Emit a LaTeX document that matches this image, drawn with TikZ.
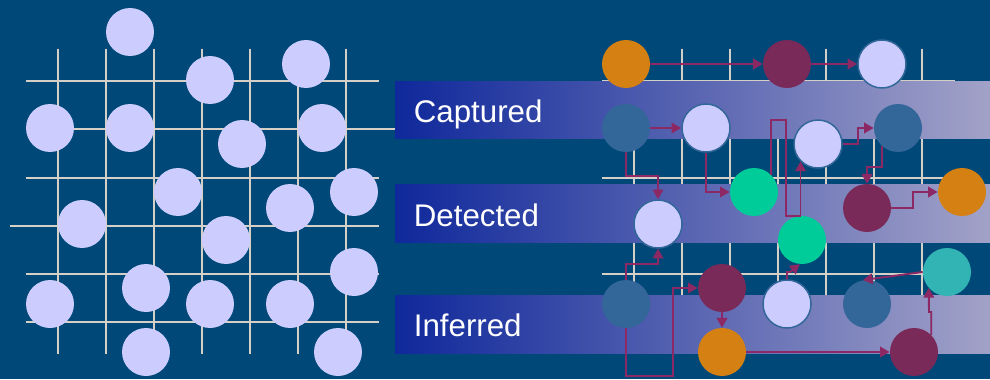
\documentclass[tikz,border=0pt]{standalone}
\usepackage{fontspec}
\setmainfont{Liberation Sans}
\usetikzlibrary{arrows.meta}

\definecolor{bgblue}{RGB}{0,72,120}
\definecolor{gridgray}{RGB}{212,208,200}
\definecolor{pale}{RGB}{204,204,255}
\definecolor{ring}{RGB}{51,102,153}
\definecolor{steel}{RGB}{51,102,153}
\definecolor{amber}{RGB}{212,128,18}
\definecolor{plum}{RGB}{122,42,88}
\definecolor{mint}{RGB}{0,204,153}
\definecolor{teal2}{RGB}{51,180,180}
\definecolor{wire}{RGB}{140,40,100}
\definecolor{bandl}{RGB}{15,40,155}
\definecolor{bandr}{RGB}{162,162,200}

\begin{document}
\begin{tikzpicture}[
    x=0.02cm, y=-0.02cm,
    >={Triangle[length=5.5pt,width=6pt]},
    grid/.style={gridgray, line width=0.85pt},
    band/.style={left color=bandl, right color=bandr},
    lbl/.style={anchor=base west, inner sep=0pt, text=white, font=\fontsize{17.8}{20}\selectfont},
    dot/.style={circle, minimum size=0.96cm, inner sep=0pt},
    light/.style={dot, fill=pale},
    lightr/.style={dot, fill=pale, draw=ring, line width=0.85pt},
    wires/.style={wire, line width=1.1pt}
]
  \fill[bgblue] (0,0) rectangle (990,379);

  % grids
  \foreach \dx in {0,576} {
    \foreach \x in {58,106,...,346}
      \draw[grid] (\x+\dx,49) -- (\x+\dx,354);
    \foreach \y in {81,129,178,226,274,322}
      \draw[grid] (26+\dx,\y) -- (379+\dx,\y);
  }
  \draw[grid] (379,129) -- (395,129);
  \draw[grid] (10,226) -- (26,226);

  % left dots
  \foreach \x/\y [count=\i] in {130/32, 210/80, 306/64, 50/128, 130/128,
      242/144, 322/128, 178/192, 82/224, 290/208, 354/192, 226/240,
      354/272, 50/304, 146/288, 210/304, 290/304, 146/352, 338/352}
    \node[light] (p\i) at (\x,\y) {};

  % bands
  \fill[band] (395,81) rectangle (990,138);
  \fill[band] (395,184) rectangle (990,242);
  \fill[band] (395,295) rectangle (990,353);
  \node[lbl] (capt) at (413.5,122) {Captured};
  \node[lbl] (dete) at (413.5,226) {Detected};
  \node[lbl] (infe) at (413.5,336) {Inferred};

  % nodes
  \node[dot, fill=amber] (o1) at (626,64) {};
  \node[dot, fill=plum]  (m1) at (787,64) {};
  \node[lightr]          (l1) at (882,64) {};
  \node[dot, fill=steel] (b1) at (626,128) {};
  \node[lightr]          (l2) at (706,128) {};
  \node[lightr]          (l3) at (818,144) {};
  \node[dot, fill=steel] (b2) at (898,128) {};
  \node[dot, fill=mint]  (g1) at (754,192) {};
  \node[dot, fill=plum]  (m2) at (867,208) {};
  \node[dot, fill=amber] (o2) at (962,192) {};
  \node[lightr]          (l4) at (658,224) {};
  \node[dot, fill=mint]  (g2) at (802,240) {};
  \node[dot, fill=teal2] (t1) at (947,272) {};
  \node[dot, fill=steel] (b3) at (626,304) {};
  \node[dot, fill=plum]  (m3) at (722,288) {};
  \node[lightr]          (l5) at (787,304) {};
  \node[dot, fill=steel] (b4) at (867,304) {};
  \node[dot, fill=amber] (o3) at (722,352) {};
  \node[dot, fill=plum]  (m4) at (914,352) {};

  % edges
  \draw[wires,->] (o1) -- (m1);
  \draw[wires,->] (m1) -- (l1);
  \draw[wires,->] (b1) -- (l2);
  \draw[wires,->] (b1.south) |- (658,176) -- (l4.north);
  \draw[wires,->] (l2.south) |- (g1.west);
  \draw[wires,->] (g1.45) |- (786,120) -- (786,216) -| (l3.225);
  \draw[wires,->] (l3.east) -| (858,128) -- (b2.west);
  \draw[wires,->] (b2.228) |- (867,167) -- (m2.north);
  \draw[wires,->] (m2.east) -| (913,192) -- (o2.west);
  \draw[wires,->] (b3.north) |- (658,264) -- (l4.south);
  \draw[wires,->] (b3.south) |- (673,376) |- (m3.west);
  \draw[wires,->] (m3) -- (o3);
  \draw[wires,->] (o3) -- (m4);
  \draw[wires,->] (m4.45) |- (929,312) -- (t1.221);
  \draw[wires,->] (t1.west) -- (b4.100);
  \draw[wires,->] (l5.north) |- (790,272) -- (g2.265);
\end{tikzpicture}
\end{document}
